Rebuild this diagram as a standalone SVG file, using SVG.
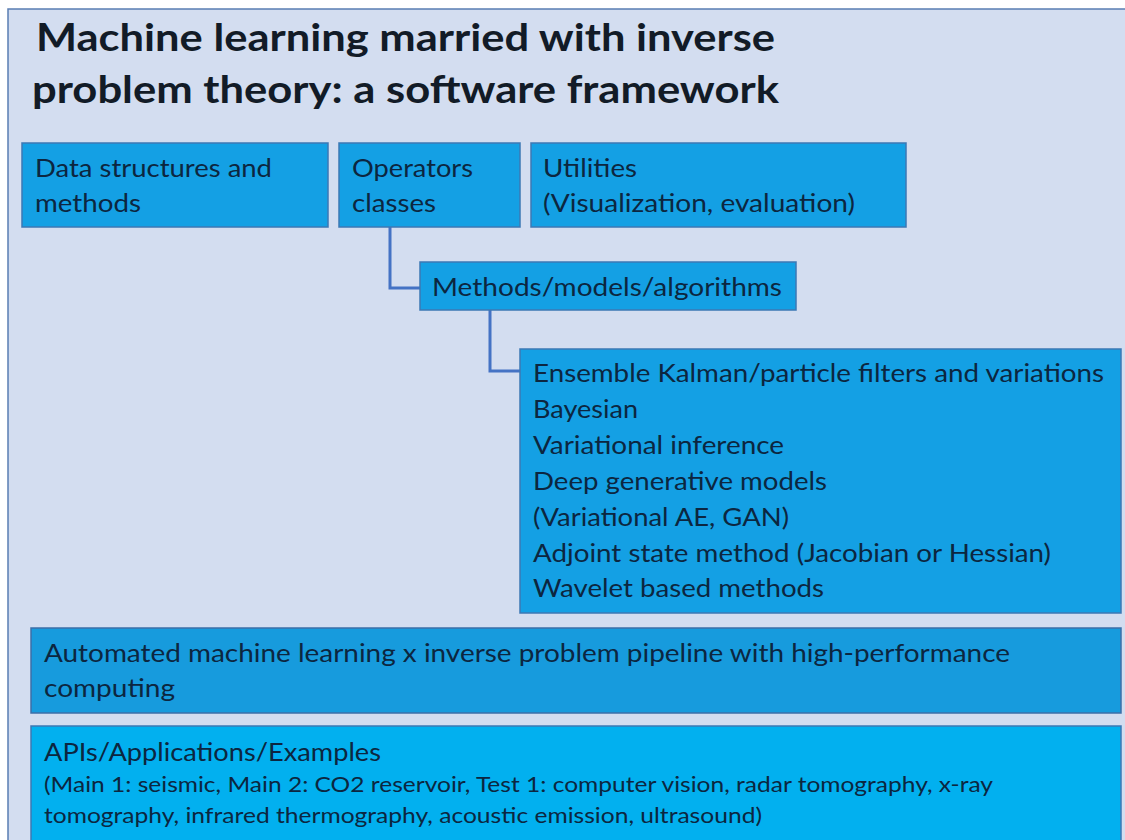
<svg xmlns="http://www.w3.org/2000/svg" width="1125" height="840" viewBox="0 0 1125 840">
  <style>
    .frame { fill: #d3ddf0; stroke: #5a7db3; stroke-width: 1.5; }
    .box { fill: #14a0e4; stroke: #3c78b4; stroke-width: 1.5; }
    .box-dark { fill: #179bdd; stroke: #3c6fa8; stroke-width: 1.5; }
    .box-light { fill: #02b0ef; stroke: #3c78b4; stroke-width: 1.5; }
    .title { font-family: Lato, "Liberation Sans", sans-serif; font-weight: bold; font-size: 38px; fill: #121b27; }
    .label { font-family: Lato, "Liberation Sans", sans-serif; font-size: 25px; fill: #0c2640; }
    .small { font-family: Lato, "Liberation Sans", sans-serif; font-size: 22px; fill: #0c2640; }
    .link { fill: none; stroke: #4472c4; stroke-width: 3; }
  </style>

  <rect x="0" y="0" width="1125" height="840" fill="#ffffff"/>
  <rect class="frame" x="8" y="9" width="1130" height="845"/>

  <g id="title">
    <text class="title" x="36" y="51" textLength="739" lengthAdjust="spacingAndGlyphs">Machine learning married with inverse</text>
    <text class="title" x="32" y="103" textLength="747" lengthAdjust="spacingAndGlyphs">problem theory: a software framework</text>
  </g>

  <g id="connectors">
    <path class="link" d="M390,227 V288 H420"/>
    <path class="link" d="M490,310 V371 H520"/>
  </g>

  <g id="data-structures">
    <rect class="box" x="22" y="143" width="306" height="84"/>
    <text class="label" x="35" y="177" textLength="237" lengthAdjust="spacingAndGlyphs">Data structures and</text>
    <text class="label" x="35" y="212" textLength="106" lengthAdjust="spacingAndGlyphs">methods</text>
  </g>

  <g id="operators">
    <rect class="box" x="339" y="143" width="181" height="84"/>
    <text class="label" x="352" y="177" textLength="121" lengthAdjust="spacingAndGlyphs">Operators</text>
    <text class="label" x="352" y="212" textLength="84" lengthAdjust="spacingAndGlyphs">classes</text>
  </g>

  <g id="utilities">
    <rect class="box" x="531" y="143" width="375" height="84"/>
    <text class="label" x="543" y="177" textLength="94" lengthAdjust="spacingAndGlyphs">Utilities</text>
    <text class="label" x="543" y="212" textLength="312" lengthAdjust="spacingAndGlyphs">(Visualization, evaluation)</text>
  </g>

  <g id="methods">
    <rect class="box" x="420" y="262" width="376" height="48"/>
    <text class="label" x="432" y="296" textLength="350" lengthAdjust="spacingAndGlyphs">Methods/models/algorithms</text>
  </g>

  <g id="method-list">
    <rect class="box" x="520" y="349" width="601" height="264"/>
    <text class="label" x="533" y="382" textLength="571" lengthAdjust="spacingAndGlyphs">Ensemble Kalman/particle filters and variations</text>
    <text class="label" x="533" y="418" textLength="105" lengthAdjust="spacingAndGlyphs">Bayesian</text>
    <text class="label" x="533" y="454" textLength="251" lengthAdjust="spacingAndGlyphs">Variational inference</text>
    <text class="label" x="533" y="490" textLength="294" lengthAdjust="spacingAndGlyphs">Deep generative models</text>
    <text class="label" x="533" y="526" textLength="256" lengthAdjust="spacingAndGlyphs">(Variational AE, GAN)</text>
    <text class="label" x="533" y="562" textLength="518" lengthAdjust="spacingAndGlyphs">Adjoint state method (Jacobian or Hessian)</text>
    <text class="label" x="533" y="597" textLength="291" lengthAdjust="spacingAndGlyphs">Wavelet based methods</text>
  </g>

  <g id="pipeline">
    <rect class="box-dark" x="31" y="628" width="1090" height="85"/>
    <text class="label" x="44" y="662" textLength="966" lengthAdjust="spacingAndGlyphs">Automated machine learning x inverse problem pipeline with high-performance</text>
    <text class="label" x="44" y="697" textLength="131" lengthAdjust="spacingAndGlyphs">computing</text>
  </g>

  <g id="applications">
    <rect class="box-light" x="31" y="726" width="1090" height="120"/>
    <text class="label" x="44" y="761" textLength="337" lengthAdjust="spacingAndGlyphs">APIs/Applications/Examples</text>
    <text class="small" x="44" y="792" textLength="949" lengthAdjust="spacingAndGlyphs">(Main 1: seismic, Main 2: CO2 reservoir, Test 1: computer vision, radar tomography, x-ray</text>
    <text class="small" x="44" y="823" textLength="718" lengthAdjust="spacingAndGlyphs">tomography, infrared thermography, acoustic emission, ultrasound)</text>
  </g>
</svg>
